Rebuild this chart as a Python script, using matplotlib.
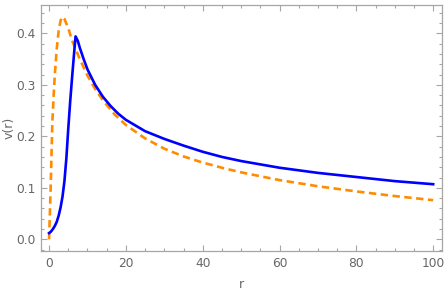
import matplotlib
matplotlib.use("Agg")
import matplotlib.pyplot as plt
from matplotlib.ticker import MultipleLocator

# Data
r_blue = [0, 0.5, 1, 1.5, 2, 2.5, 3, 3.5, 4, 4.5, 5, 5.5, 6, 6.5, 6.9, 7.5, 8, 9, 10, 12, 14,
          16, 18, 20, 25, 30, 35, 40, 45, 50, 60, 70, 80, 90, 100]
v_blue = [0.012, 0.015, 0.020, 0.026, 0.034, 0.046, 0.062, 0.083, 0.113, 0.157, 0.215, 0.268,
          0.315, 0.360, 0.394, 0.385, 0.372, 0.350, 0.330, 0.300, 0.277,
          0.259, 0.244, 0.232, 0.210, 0.195, 0.182, 0.170, 0.160, 0.152, 0.139, 0.129,
          0.121, 0.113, 0.107]

r_orange = [0, 0.4, 0.86, 1.2, 1.5, 2.0, 2.5, 3.0, 3.5, 4.0, 5, 6, 8, 10, 12, 14, 17, 20,
            25, 30, 35, 40, 45, 50, 60, 70, 80, 90, 100]
v_orange = [0.0, 0.096, 0.229, 0.280, 0.320, 0.370, 0.405, 0.425, 0.432, 0.428, 0.410, 0.386,
            0.350, 0.318, 0.292, 0.270, 0.243, 0.222, 0.196, 0.176, 0.161, 0.149, 0.139,
            0.130, 0.115, 0.103, 0.093, 0.084, 0.076]

x_label = "r"
y_label = "v(r)"

fig = plt.figure(figsize=(4.47, 2.91), dpi=100)
ax = fig.add_axes([41/447, 1 - 251/291, (442 - 41)/447, (251 - 4.5)/291])

ax.plot(r_blue, v_blue, color="#0000ff", lw=1.9, solid_joinstyle="round", zorder=3)
ax.plot(r_orange, v_orange, color="#ff8c00", lw=1.9, linestyle=(0, (2.8, 1.7)), zorder=2)

ax.set_xlim(-2.1, 102.3)
ax.set_ylim(-0.0227, 0.456)

frame_col = "#a6a6a6"
label_col = "#666666"
for s in ax.spines.values():
    s.set_color(frame_col)
    s.set_linewidth(0.9)

ax.xaxis.set_major_locator(MultipleLocator(20))
ax.xaxis.set_minor_locator(MultipleLocator(5))
ax.yaxis.set_major_locator(MultipleLocator(0.1))
ax.yaxis.set_minor_locator(MultipleLocator(0.02))
ax.yaxis.set_major_formatter(matplotlib.ticker.FormatStrFormatter("%.1f"))

ax.tick_params(which="both", direction="in", color=frame_col, width=0.8,
               top=True, right=True, labelsize=8.8, labelcolor=label_col)
ax.tick_params(which="major", length=4, pad=4)
ax.tick_params(which="minor", length=2.2)

ax.set_xlabel(x_label, fontsize=9, color=label_col, labelpad=6)
fig.text(9/447, 1 - 128/291, y_label, rotation=90, fontsize=9, color=label_col,
         ha="center", va="center")

fig.savefig("out.png", dpi=100)
